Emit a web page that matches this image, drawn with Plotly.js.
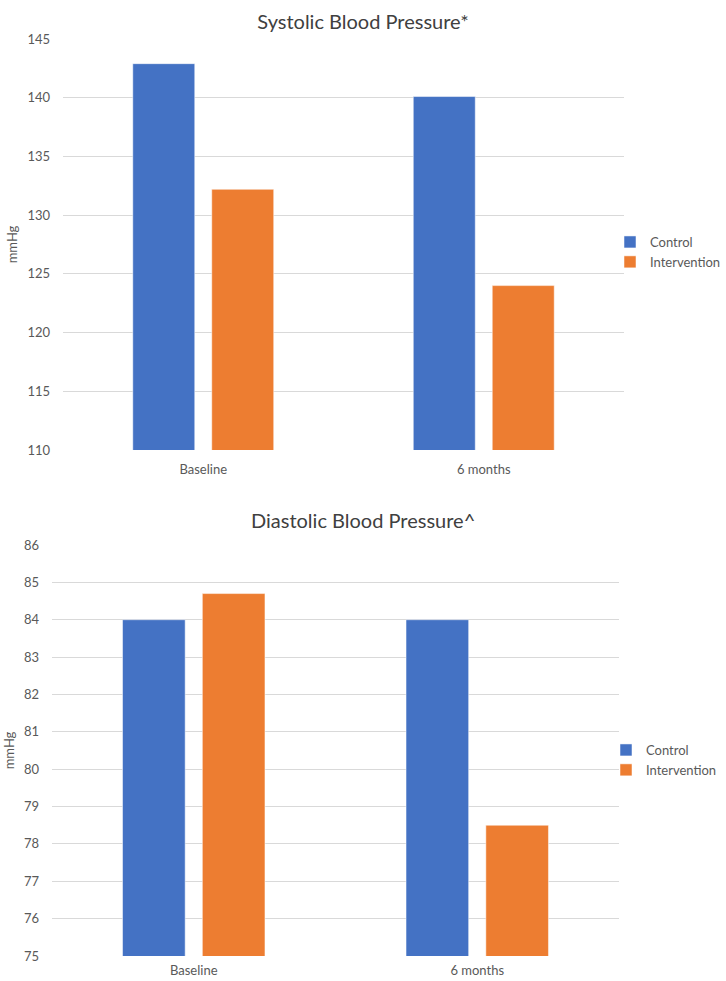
<!DOCTYPE html>
<html>
<head>
<meta charset="utf-8">
<script src="https://cdn.plot.ly/plotly-3.0.1.min.js"></script>
<style>
  html, body { margin: 0; padding: 0; background: #fff; }
  #chart { width: 726px; height: 981px; }
</style>
</head>
<body>
<div id="chart"></div>
<script>
// datos
const categories = ['Baseline', '6 months'];
const seriesNames = ['Control', 'Intervention'];
const systolicControl = [142.9, 140.1];
const systolicIntervention = [132.2, 124.0];
const diastolicControl = [84.0, 84.0];
const diastolicIntervention = [84.7, 78.5];
const systolicTicks = [110, 115, 120, 125, 130, 135, 140, 145];
const diastolicTicks = [75, 76, 77, 78, 79, 80, 81, 82, 83, 84, 85, 86];

const colors = ['#4472C4', '#ED7D31'];
const font = 'Lato, "Open Sans", sans-serif';
const textColor = '#595959';

function barTrace(name, values, color, xa, ya, legend) {
    return {
        type: 'bar',
        name: name,
        x: categories,
        y: values,
        xaxis: xa,
        yaxis: ya,
        legend: legend,
        marker: { color: color, line: { color: 'rgba(255,255,255,0.5)', width: 1 } },
        hoverinfo: 'x+y+name'
    };
}

const traces = [
    barTrace(seriesNames[0], systolicControl, colors[0], 'x', 'y', 'legend'),
    barTrace(seriesNames[1], systolicIntervention, colors[1], 'x', 'y', 'legend'),
    barTrace(seriesNames[0], diastolicControl, colors[0], 'x2', 'y2', 'legend2'),
    barTrace(seriesNames[1], diastolicIntervention, colors[1], 'x2', 'y2', 'legend2')
];

const W = 726, H = 981;
const px = v => v / W;
const py = v => 1 - v / H;

function yAxis(ticks, top, bottom, anchor) {
    return {
        domain: [py(bottom), py(top)],
        range: [ticks[0], ticks[ticks.length - 1]],
        tickvals: ticks,
        anchor: anchor,
        showgrid: true,
        gridcolor: '#D9D9D9',
        gridwidth: 1,
        zeroline: false,
        showline: false,
        ticks: '',
        ticklabelstandoff: 12,
        tickfont: { family: font, size: 13, color: textColor },
        title: { text: 'mmHg', font: { family: font, size: 13, color: textColor }, standoff: 6 },
        fixedrange: true
    };
}

function xAxis(left, right, anchor, standoff) {
    return {
        domain: [px(left), px(right)],
        anchor: anchor,
        showgrid: false,
        zeroline: false,
        showline: false,
        ticks: '',
        ticklabelstandoff: standoff,
        tickfont: { family: font, size: 13, color: textColor },
        fixedrange: true
    };
}

const legendBase = {
    font: { family: font, size: 13, color: textColor },
    bgcolor: 'rgba(0,0,0,0)',
    xanchor: 'left',
    yanchor: 'middle',
    tracegroupgap: 0,
    itemwidth: 30
};

const layout = {
    width: W,
    height: H,
    margin: { l: 0, r: 0, t: 0, b: 0 },
    paper_bgcolor: '#fff',
    plot_bgcolor: '#fff',
    barmode: 'group',
    bargap: 0.437,
    bargroupgap: 0.215,
    font: { family: font, color: textColor },
    title: {
        text: 'Systolic Blood Pressure*',
        font: { family: font, size: 20, color: '#404040' },
        x: 0.5, xanchor: 'center',
        y: py(22), yanchor: 'middle', yref: 'paper'
    },
    annotations: [{
        text: 'Diastolic Blood Pressure^',
        font: { family: font, size: 20, color: '#404040' },
        x: 0.5, xref: 'paper', xanchor: 'center',
        y: py(520), yref: 'paper', yanchor: 'middle',
        showarrow: false
    }],
    xaxis: xAxis(63, 624, 'y', 10),
    yaxis: yAxis(systolicTicks, 39, 450, 'x'),
    xaxis2: xAxis(52, 619, 'y2', 5),
    yaxis2: yAxis(diastolicTicks, 545, 956, 'x2'),
    legend: Object.assign({}, legendBase, { x: px(610), y: py(252) }),
    legend2: Object.assign({}, legendBase, { x: px(606), y: py(760) }),
    showlegend: true
};

Plotly.newPlot('chart', traces, layout, { displayModeBar: false, staticPlot: true });
</script>
</body>
</html>
